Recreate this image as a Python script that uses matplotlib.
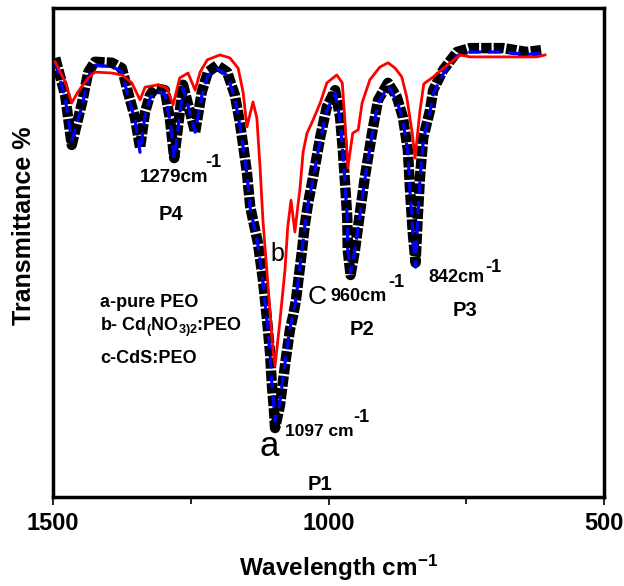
import matplotlib
matplotlib.use("Agg")
import matplotlib.pyplot as plt
from matplotlib.ticker import FixedLocator

plt.rcParams['font.family'] = ['Liberation Sans', 'DejaVu Sans']
plt.rcParams['mathtext.default'] = 'regular'

# a - pure PEO (black squares)
pure_wn = [1496, 1478, 1466, 1447, 1436, 1424, 1393, 1375, 1364, 1351, 1342,
           1333, 1324, 1315, 1297, 1288, 1280, 1264, 1242, 1230, 1219, 1202,
           1184, 1170, 1161, 1155, 1148, 1142, 1128, 1119, 1112, 1106, 1103,
           1099, 1097, 1088, 1083, 1077, 1070, 1064, 1059, 1054, 1048, 1043,
           1037, 1028, 1015, 1003, 988, 979, 974, 970, 966, 965, 960, 952,
           943, 934, 921, 910, 892, 876, 865, 856, 852, 847, 842, 838, 834,
           828, 816, 810, 792, 767, 743, 683, 640, 613]
pure_t = [89.8, 82.2, 72.0, 80.8, 86.9, 89.0, 88.8, 87.7, 82.8, 77.5, 71.4,
          78.7, 82.2, 83.6, 83.2, 77.5, 69.3, 84.3, 74.6, 82.8, 86.9, 88.3,
          86.9, 82.2, 76.7, 72.0, 66.3, 59.3, 51.9, 44.4, 36.8, 29.4, 23.3,
          17.8, 14.1, 18.8, 23.3, 28.6, 34.2, 37.2, 40.3, 45.0, 50.5, 55.6,
          60.1, 65.4, 73.6, 79.8, 83.2, 77.7, 71.0, 64.2, 57.3, 50.5, 45.4, 50.5,
          58.1, 65.4, 74.4, 81.2, 84.7, 81.8, 77.7, 71.0, 62.8, 54.0, 47.9, 57.3, 65.4,
          73.5, 79.0, 83.2, 87.3, 91.0, 91.8, 91.8, 91.0, 91.4]

# c - CdS:PEO (blue dashed)
cds_wn = pure_wn
cds_t = [89.0, 81.5, 73.0, 80.0, 86.0, 88.3, 88.0, 87.0, 82.0, 77.0, 70.5,
         78.0, 81.5, 83.0, 82.5, 77.0, 69.3, 83.6, 74.6, 82.0, 86.2, 87.6,
         86.2, 81.5, 76.0, 71.5, 66.0, 59.0, 51.5, 44.0, 36.5, 29.2, 23.5,
         18.5, 15.5, 19.5, 24.0, 29.0, 34.5, 37.5, 40.5, 45.2, 50.5, 55.5,
         60.0, 65.0, 73.0, 79.0, 82.5, 77.0, 70.5, 64.0, 57.0, 50.5, 45.8, 50.5,
         57.8, 65.0, 74.0, 80.5, 84.0, 81.0, 77.0, 70.5, 62.5, 54.0, 47.0, 57.0, 65.0,
         73.0, 78.5, 82.5, 86.5, 90.2, 91.0, 91.0, 90.5, 90.8]

# b - Cd(NO3)2:PEO (red)
cdno_wn = [1496, 1478, 1466, 1455, 1436, 1424, 1393, 1375, 1357, 1342, 1333,
           1309, 1293, 1282, 1270, 1255, 1242, 1233, 1220, 1197, 1179, 1164,
           1155, 1148, 1137, 1130, 1124, 1119, 1112, 1106, 1101, 1097, 1088,
           1079, 1074, 1068, 1061, 1055, 1052, 1046, 1039, 1028, 1015, 1003,
           985, 975, 970, 965, 956, 946, 939, 925, 907, 892, 879, 867, 858,
           848, 843, 834, 827, 810, 785, 761, 743, 683, 622, 607]
cdno_t = [89.0, 84.9, 80.6, 82.8, 85.7, 86.9, 86.7, 86.3, 84.7, 81.2, 83.8,
          84.3, 83.6, 80.2, 85.7, 86.7, 83.2, 86.9, 89.4, 90.4, 89.8, 87.7,
          82.8, 75.7, 80.8, 77.5, 67.0, 56.6, 46.4, 37.6, 30.1, 26.8, 36.2,
          46.4, 55.2, 60.7, 54.2, 60.1, 62.8, 70.6, 74.4, 77.1, 80.6, 84.7,
          86.3, 84.7, 76.5, 67.3, 74.4, 75.1, 80.6, 85.3, 87.9, 88.8, 87.7, 85.9, 81.8,
          74.4, 69.3, 79.0, 84.5, 85.9, 88.3, 90.4, 90.0, 90.0, 90.0, 90.4]

x_ticks = [1500, 1000, 500]
x_minor = [1250, 750]

fig = plt.figure(figsize=(6.24, 5.86), dpi=100)
ax = fig.add_axes([53 / 624, 89 / 586, 551 / 624, 489 / 586])

ax.plot(pure_wn, pure_t, color='black', lw=7.5, linestyle=(0, (1, 0.2)),
        dash_capstyle='butt', zorder=2)
ax.plot(cds_wn, cds_t, color='#0000ff', lw=2.3, linestyle=(0, (4, 2.2)), zorder=3)
ax.plot(cdno_wn, cdno_t, color='red', lw=2.0, zorder=4)

ax.set_xlim(1500, 500)
ax.set_ylim(0, 100)
ax.xaxis.set_major_locator(FixedLocator(x_ticks))
ax.xaxis.set_minor_locator(FixedLocator(x_minor))
ax.set_yticks([])
ax.tick_params(axis='x', which='major', length=6, width=1.2, direction='out',
               labelsize=17, pad=5)
ax.tick_params(axis='x', which='minor', length=5, width=1.2, direction='out')
for lab in ax.get_xticklabels():
    lab.set_fontweight('bold')
for s in ax.spines.values():
    s.set_linewidth(2.5)

ax.set_xlabel('Wavelength cm$^{-1}$', fontsize=17.5, fontweight='bold')
ax.xaxis.set_label_coords(0.519, -0.115)
ax.set_ylabel('Transmittance %', fontsize=18, fontweight='bold')
ax.yaxis.set_label_coords(-0.031, 0.554)

bold = dict(fontweight='bold', va='center', ha='left')
# peak labels
ax.text(1342, 65.4, '1279cm', fontsize=13.5, **bold)
ax.text(1223, 68.5, '-1', fontsize=13, **bold)
ax.text(1309, 57.7, 'P4', fontsize=14.5, **bold)
ax.text(997, 40.9, '960cm', fontsize=13, **bold)
ax.text(892, 43.8, '-1', fontsize=13, **bold)
ax.text(961, 34.2, 'P2', fontsize=14.5, **bold)
ax.text(819, 44.8, '842cm', fontsize=13, **bold)
ax.text(716, 47.0, '-1', fontsize=13, **bold)
ax.text(774, 38.2, 'P3', fontsize=14.5, **bold)
ax.text(1079, 13.3, '1097 cm', fontsize=12.5, **bold)
ax.text(955, 16.2, '-1', fontsize=13, **bold)
ax.text(1037, 2.5, 'P1', fontsize=14.5, **bold)

# curve letters
plain = dict(va='center', ha='center')
ax.text(1092, 49.7, 'b', fontsize=18, **plain)
ax.text(1021, 40.9, 'C', fontsize=19, **plain)
ax.text(1108, 10.4, 'a', fontsize=25, **plain)

# sample legend
leg = dict(fontweight='bold', fontsize=13, va='center', ha='left')
ax.text(1415, 39.7, 'a-pure PEO', **leg)
ax.text(1415, 34.6, r'b- Cd$_{(}$NO$_{3)2}$:PEO', **leg)
ax.text(1415, 28.4, 'c-CdS:PEO', **leg)

fig.savefig('out.png', dpi=100)
